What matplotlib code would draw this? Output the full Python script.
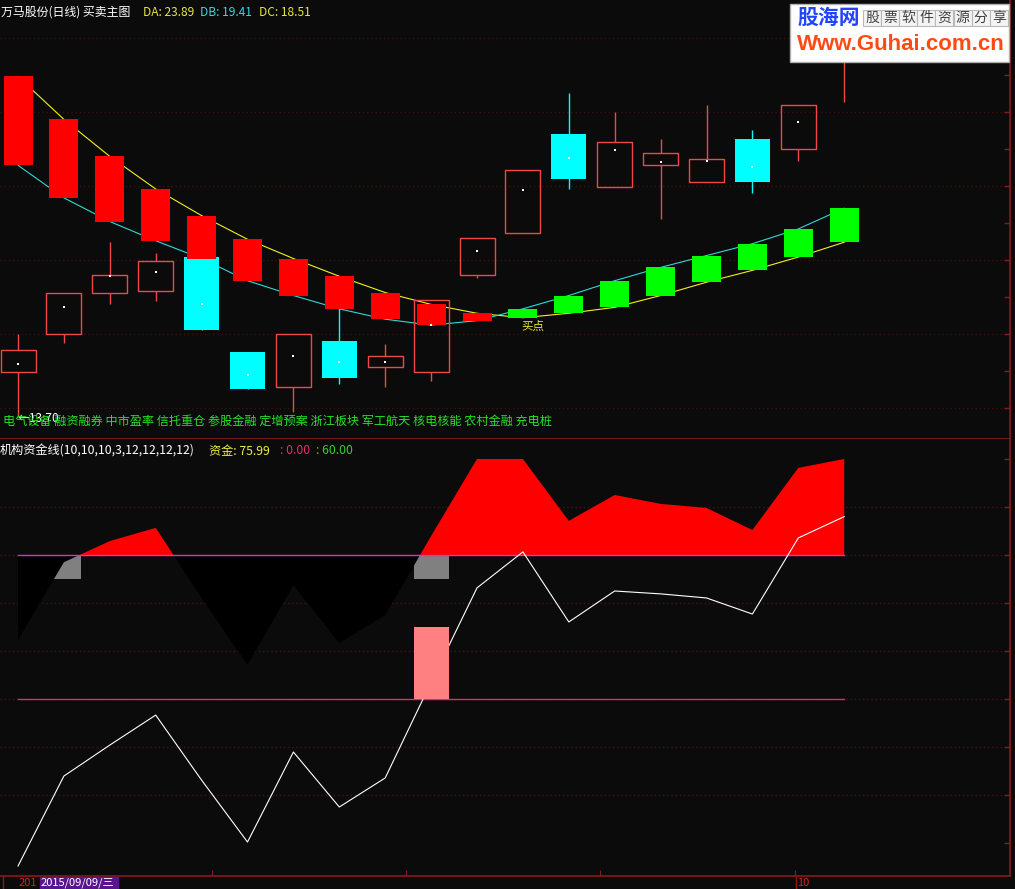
import matplotlib
matplotlib.use('Agg')
import matplotlib.pyplot as plt
from matplotlib.patches import Rectangle
from matplotlib.lines import Line2D
import numpy as np

plt.rcParams['font.family'] = ['Noto Sans CJK SC', 'DejaVu Sans']

# ---------------- data ----------------
opens  = [13.99, 14.25, 14.53, 14.54, 14.77, 14.13, 13.89, 14.20, 14.03, 13.99,
          14.65, 14.93, 15.60, 15.24, 15.39, 15.28, 15.57, 15.50, 16.14]
highs  = [14.25, 14.53, 14.87, 14.80, 14.77, 14.13, 14.25, 14.43, 14.18, 14.48,
          14.90, 15.36, 15.88, 15.75, 15.57, 15.80, 15.63, 15.80, 16.37]
lows   = [13.70, 14.19, 14.45, 14.47, 14.28, 13.88, 13.72, 13.91, 13.89, 13.93,
          14.63, 14.93, 15.23, 15.24, 15.03, 15.28, 15.20, 15.42, 15.82]
closes = [14.14, 14.53, 14.65, 14.74, 14.28, 13.88, 14.25, 13.95, 14.10, 14.48,
          14.90, 15.36, 15.30, 15.55, 15.47, 15.43, 15.28, 15.80, 16.30]
avg_price = [14.05, 14.43, 14.64, 14.67, 14.45, 13.97, 14.10, 14.06, 14.06, 14.31,
             14.81, 15.22, 15.44, 15.49, 15.41, 15.42, 15.38, 15.68, 16.20]
yellow_line = [15.99, 15.70, 15.45, 15.23, 15.05, 14.89, 14.76, 14.64, 14.53, 14.45,
               14.39, 14.36, 14.39, 14.43, 14.51, 14.60, 14.68, 14.77, 14.87]
cyan_line = [15.39, 15.17, 15.01, 14.88, 14.76, 14.61, 14.51, 14.42, 14.35, 14.31,
             14.34, 14.42, 14.51, 14.61, 14.70, 14.78, 14.86, 14.96, 15.10]

fund_strength = [24.6, 57.0, 65.8, 71.3, 42.1, 14.2, 47.5, 23.3, 35.0, 67.9,
                 100.0, 100.0, 74.2, 85.0, 81.3, 79.6, 70.4, 96.3, 100.0]
fund_line = [-69.6, -32.1, -19.2, -6.7, -33.8, -59.6, -22.1, -45.0, -32.9, 7.0,
             46.3, 61.3, 32.1, 45.0, 43.8, 42.1, 35.4, 67.1, 75.99]
gray_signal = [0, 1, 0, 0, 0, 0, 0, 0, 0, 1, 0, 0, 0, 0, 0, 0, 0, 0, 0]
pink_signal = [0, 0, 0, 0, 0, 0, 0, 0, 0, 1, 0, 0, 0, 0, 0, 0, 0, 0, 0]
upper_level = 60
lower_level = 0
gray_range = (50, 60)
pink_range = (0, 30)

concepts = ['电气设备', '融资融券', '中市盈率', '信托重仓', '参股金融', '定增预案',
            '浙江板块', '军工航天', '核电核能', '农村金融', '充电桩']
low_label = '←13.70'
title_main = '万马股份(日线) 买卖主图'
title_vals = [('DA: 23.89', '#e8e83a'), ('DB: 19.41', '#3ad8d8'), ('DC: 18.51', '#e8e83a')]
sub_title = '机构资金线(10,10,10,3,12,12,12,12)'
sub_vals = [('资金: 75.99', '#f0f040'), (': 0.00', '#e0306a'), (': 60.00', '#30d030')]
buy_label = '买点'
buy_index = 11

# ---------------- layout ----------------
W, H = 1015, 889
BG = '#0b0b0b'
fig = plt.figure(figsize=(W / 100, H / 100), dpi=100, facecolor=BG)

def fx(px):
    return px / W

def fy(py):
    return 1 - py / H

n = len(opens)
idx = np.arange(n)
step = 45.9
x0px = 18
xlim = (-x0px / step, (1010 - x0px) / step)

ax1 = fig.add_axes([0, fy(439), fx(1010), 439 / H], facecolor=BG)
ax2 = fig.add_axes([0, fy(876), fx(1010), (876 - 439) / H], facecolor=BG)

AXC = '#8c1818'
for ax in (ax1, ax2):
    ax.set_xlim(*xlim)
    for s in ('top', 'left'):
        ax.spines[s].set_visible(False)
    ax.spines['right'].set_color(AXC)
    ax.spines['bottom'].set_color(AXC)
    ax.spines['right'].set_linewidth(1.2)
    ax.spines['bottom'].set_linewidth(1.2)
    ax.yaxis.tick_right()
    ax.tick_params(axis='y', direction='in', length=4, color=AXC, labelright=False, width=1)

ax1.set_ylim(13.5405, 16.5068)
ax2.set_ylim(-73.75, 108.33)
ax1.set_yticks(np.arange(13.75, 16.5, 0.25))
ax2.set_yticks(np.arange(-60, 101, 20))
ax1.set_xticks([])
ax2.set_xticks([(p - x0px) / step for p in (212, 406, 600, 795)])
ax2.tick_params(axis='x', direction='in', length=4, color=AXC, labelbottom=False)

# grid
for g in np.arange(13.75, 16.3, 0.5):
    ax1.axhline(g, color='#3e1010', lw=1, ls=(0, (1, 2)), zorder=0)
for g in (80, 60, 40, 20, 0, -20, -40):
    ax2.axhline(g, color='#4a1020', lw=1, ls=(0, (1, 2)), zorder=0)

# ---------------- upper panel ----------------
ax1.plot(idx, yellow_line, color='#f0f020', lw=0.8, zorder=2)
ax1.plot(idx, cyan_line, color='#30d8d8', lw=0.8, zorder=2)

bw = 35 / step
UP = '#f04848'
DN = '#00ffff'
for i in range(n):
    o, h, l, c = opens[i], highs[i], lows[i], closes[i]
    if c >= o:
        ax1.vlines(i, c, h, color=UP, lw=1, zorder=3)
        ax1.vlines(i, l, o, color=UP, lw=1, zorder=3)
        ax1.bar(i, c - o, bottom=o, width=bw, facecolor='none', edgecolor=UP, lw=1, zorder=3)
    else:
        ax1.vlines(i, l, h, color=DN, lw=1, zorder=3)
        ax1.bar(i, o - c, bottom=c, width=bw, color=DN, lw=0, zorder=3)
ax1.scatter(idx, avg_price, s=1.2, color='white', marker='s', lw=0, zorder=6)

tw = 29 / step
for i in range(n):
    a, b = yellow_line[i], cyan_line[i]
    col = '#ff0000' if a > b else '#00ff00'
    ax1.bar(i, abs(a - b), bottom=min(a, b), width=tw, color=col, lw=0, zorder=4)

ax1.annotate(buy_label, (buy_index, yellow_line[buy_index]), xytext=(-1, -1.5),
             textcoords='offset points', ha='left', va='top', color='#e8e83a',
             fontsize=8.3, zorder=7)
ax1.annotate(low_label, (0, lows[0]), xytext=(-0.5, -2), textcoords='offset points',
             ha='left', va='center', color='white', fontsize=8.6, zorder=8)

# ---------------- lower panel ----------------
fs = np.array(fund_strength)
gw = 35 / step
for i in range(n):
    if gray_signal[i]:
        ax2.bar(i, gray_range[1] - gray_range[0], bottom=gray_range[0], width=gw,
                color='#808080', lw=0, zorder=1)
ax2.fill_between(idx, upper_level, fs, where=fs >= upper_level, interpolate=True,
                 color='#ff0000', lw=0, zorder=2)
ax2.fill_between(idx, upper_level, fs, where=fs <= upper_level, interpolate=True,
                 color='#000000', lw=0, zorder=2)
ax2.plot([0, n - 1], [upper_level, upper_level], color='#e030c0', lw=1, zorder=3)
ax2.plot([0, n - 1], [lower_level, lower_level], color='#d8306a', lw=1, zorder=3)
ax2.plot(idx, fund_line, color='white', lw=0.8, zorder=4)
for i in range(n):
    if pink_signal[i]:
        ax2.bar(i, pink_range[1] - pink_range[0], bottom=pink_range[0], width=gw,
                color='#ff8080', lw=0, zorder=5)

# ---------------- texts ----------------
fig.text(fx(1), fy(12), title_main, color='white', fontsize=8.6, va='center')
for (t, c), px in zip(title_vals, (143, 200, 259)):
    fig.text(fx(px), fy(12), t, color=c, fontsize=8.6, va='center')

fig.text(fx(3), fy(421), ' '.join(concepts), color='#28e028', fontsize=8.75, va='center', zorder=2)

fig.text(fx(0), fy(451), sub_title, color='white', fontsize=8.75, va='center')
for (t, c), px in zip(sub_vals, (209, 280, 316)):
    fig.text(fx(px), fy(451), t, color=c, fontsize=8.75, va='center')

# bottom date bar
fig.add_artist(Line2D([fx(3), fx(3)], [fy(876), fy(889)], color=AXC, lw=1))
fig.add_artist(Line2D([fx(796), fx(796)], [fy(876), fy(889)], color=AXC, lw=1))
fig.text(fx(19), fy(883), '201', color='#d02020', fontsize=8, va='center')
fig.add_artist(Rectangle((fx(40), fy(889)), fx(118) - fx(40), 12 / H,
                         transform=fig.transFigure, color='#5a1490', zorder=5))
fig.text(fx(41), fy(883), '2015/09/09/三', color='white', fontsize=8, va='center', zorder=6)
fig.text(fx(797), fy(883), '10', color='#d02020', fontsize=8, va='center')

# logo
fig.add_artist(Rectangle((fx(790), fy(62)), fx(1009) - fx(790), 58 / H,
                         transform=fig.transFigure, facecolor='white',
                         edgecolor='#b0b0b0', lw=1, zorder=5))
fig.text(fx(797), fy(17), '股海网', color='#2244ff', fontsize=15, fontweight='bold',
         va='center', zorder=6)
for k, ch in enumerate('股票软件资源分享'):
    left = 863 + k * 18.1
    fig.add_artist(Rectangle((fx(left), fy(26)), 18 / W, 16 / H, transform=fig.transFigure,
                             facecolor='#f4f4f4', edgecolor='#b8b8b8', lw=0.8, zorder=6))
    fig.text(fx(left + 9), fy(18), ch, color='#404040', fontsize=10, ha='center',
             va='center', zorder=7)
fig.text(fx(797), fy(44), 'Www.Guhai.com.cn', color='#ff4a14', fontsize=16,
         fontweight='bold', family=['Liberation Sans', 'DejaVu Sans'], va='center', zorder=6)

fig.savefig('out.png', dpi=100, facecolor=BG)
